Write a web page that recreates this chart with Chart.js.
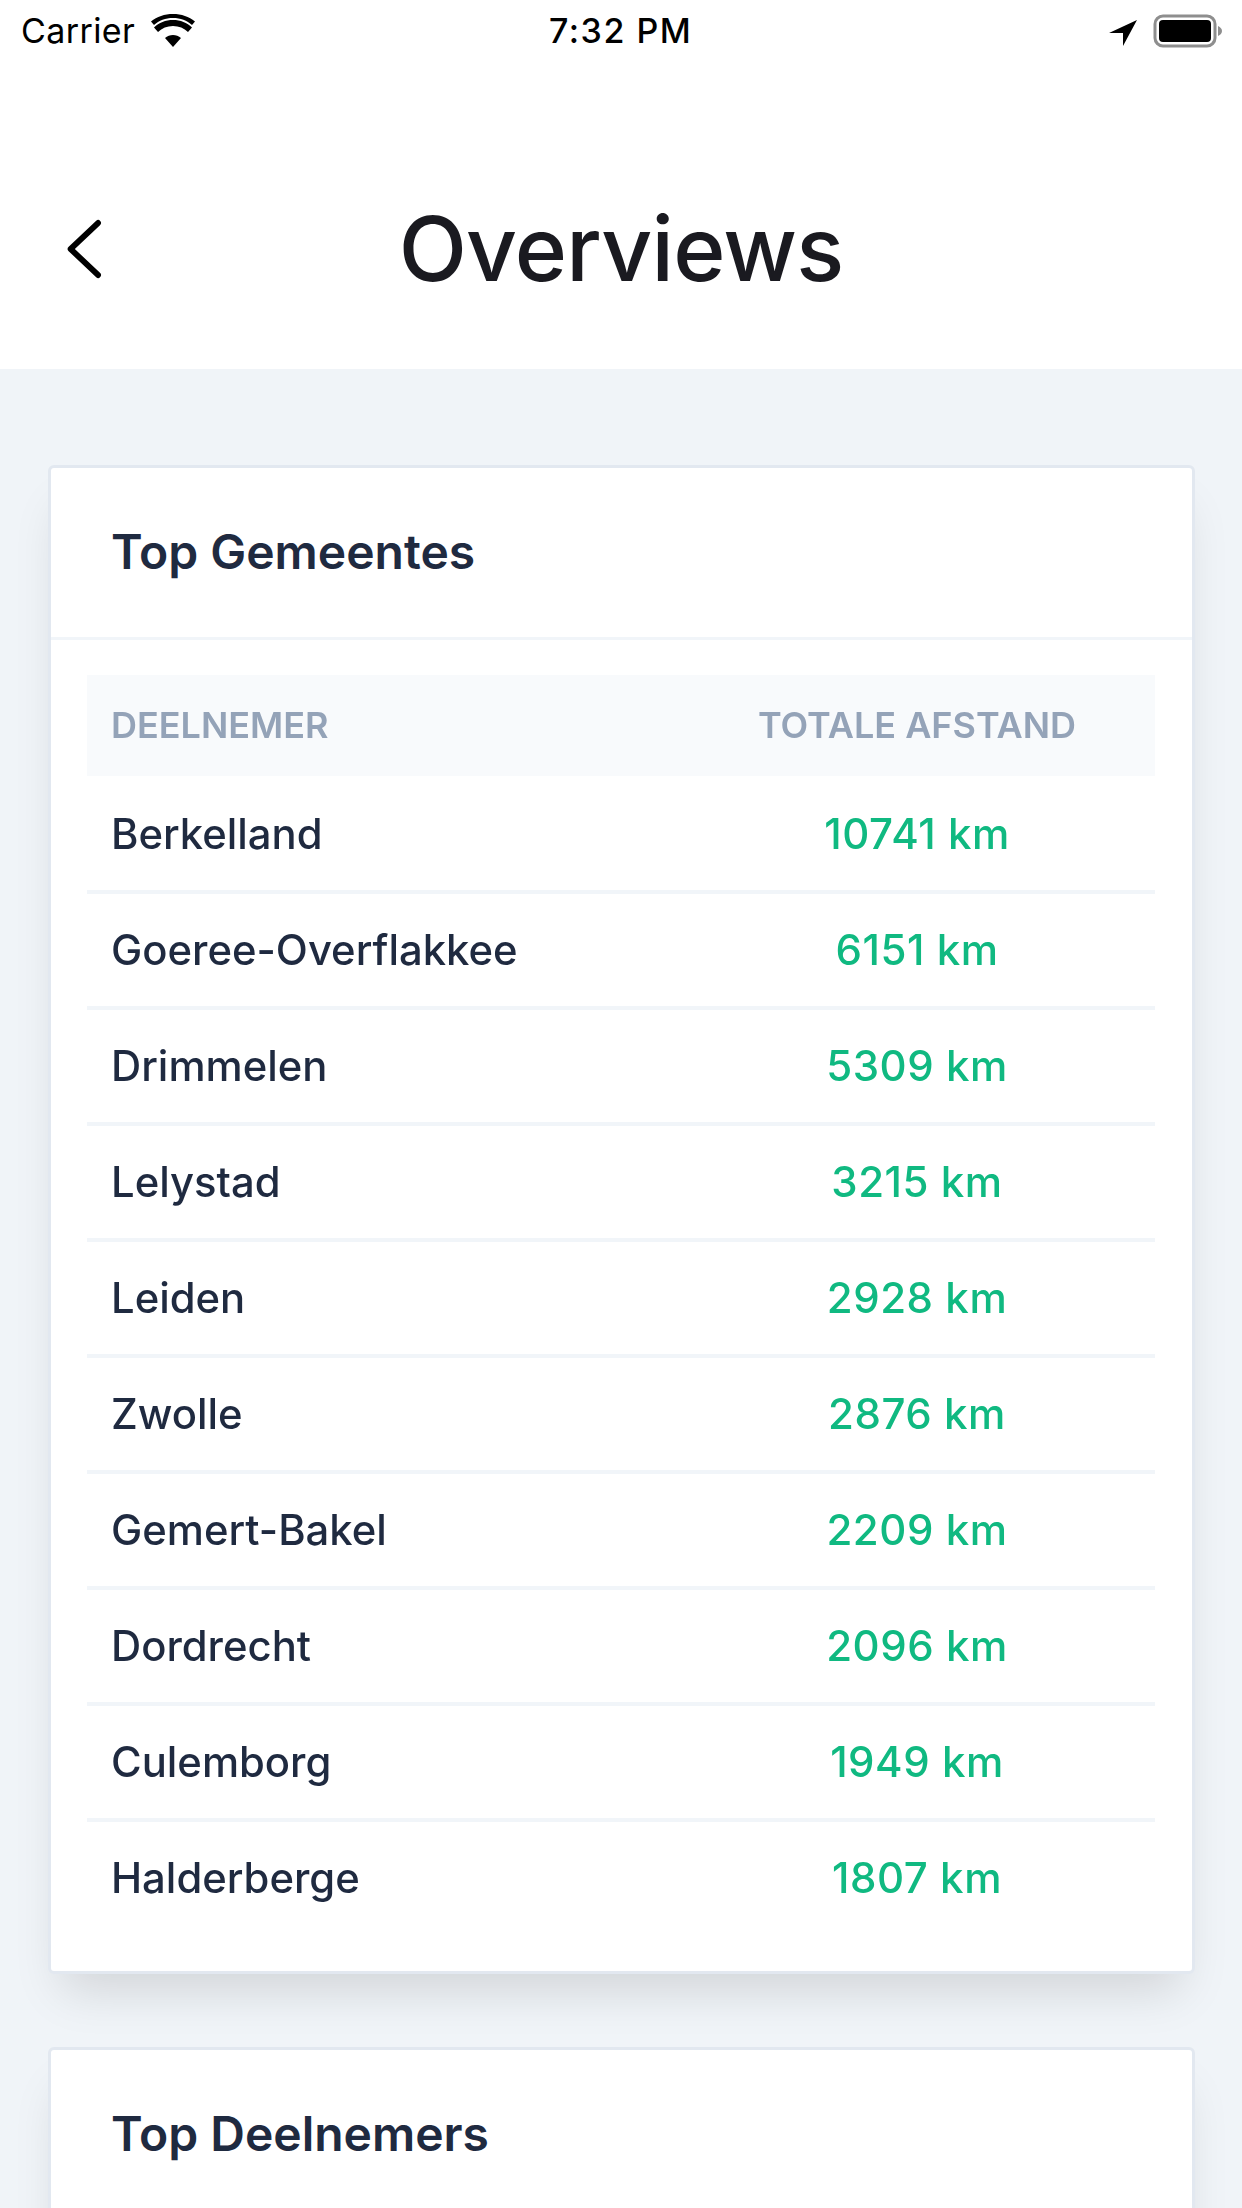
<!DOCTYPE html>
<html>
<head>
<meta charset="utf-8">
<title>Overviews</title>
<script src="https://cdn.jsdelivr.net/npm/chart.js@4"></script>
<style>
html, body { margin: 0; padding: 0; }
body { width: 1242px; height: 2208px; overflow: hidden; position: relative; background: #f0f4f8; font-family: Inter, sans-serif; }
#top { position: absolute; left: 0; top: 0; width: 1242px; height: 369px; background: #fff; }
.abs { position: absolute; white-space: nowrap; }
.status { font-family: Inter, sans-serif; color: #000; font-size: 34px; line-height: 40px; top: 11px; }
#heading { left: 0; width: 1242px; text-align: center; top: 195px; font-size: 89px; line-height: 108px; font-weight: 540; letter-spacing: -.8px; color: #1a1a20; }
.card { position: absolute; left: 48px; width: 1141px; background: #fff; border: 3px solid #e2e8f0; border-radius: 6px; box-shadow: 0 30px 45px -14px rgba(0,0,0,.13); }
.card h2 { position: absolute; left: 60px; margin: 0; font-size: 48px; line-height: 60px; font-weight: 600; color: #1f2a40; white-space: nowrap; }
#divider { position: absolute; left: 0; right: 0; top: 169px; height: 3px; background: #f1f5f9; }
#table { position: absolute; left: 87px; top: 675px; }
</style>
</head>
<body>
<div id="top"></div>
<div class="abs status" style="left:21px;letter-spacing:.4px">Carrier</div>
<svg class="abs" style="left:150px;top:14px" width="46" height="34" viewBox="0 0 46 34"><path d="M23 33 15 24c4.500-4 11.500-4 16 0Z M23 12c-6 0-11 2.300-15 6l-4-4.500C9 8.500 15.500 6 23 6s14 2.500 19 7.500L38 18c-4-3.700-9-6-15-6Z" fill="#000"/><path d="M1 7.500C7 2.500 14.500 0 23 0s16 2.500 22 7.500l-3 3.500C37 6.500 30.500 4 23 4S9 6.500 4 11Z" fill="#000"/></svg>
<div class="abs status" style="left:549px;font-weight:500;letter-spacing:1.5px">7:32 PM</div>
<svg class="abs" style="left:1108px;top:19px" width="30" height="28" viewBox="0 0 30 28"><path d="M29 1 15 27V14H1Z" fill="#000"/></svg>
<svg class="abs" style="left:1153px;top:14px" width="70" height="34" viewBox="0 0 70 34"><rect x="2" y="2" width="60" height="30" rx="8" fill="none" stroke="#8e8e8e" stroke-width="3"/><rect x="6" y="6" width="52" height="22" rx="4" fill="#000"/><path d="M65 12c2.500 1 4 3 4 5s-1.500 4-4 5Z" fill="#8e8e8e"/></svg>
<svg class="abs" style="left:66px;top:214px" width="50" height="70" viewBox="0 0 50 70"><path d="M38 9 9 35 38 61" transform="translate(-4 0) scale(.95 1)" fill="none" stroke="#000" stroke-width="6" stroke-linecap="round" stroke-linejoin="round"/></svg>
<div class="abs" id="heading">Overviews</div>

<div class="card" style="top:465px;height:1503px"><h2 style="top:54px">Top Gemeentes</h2><div id="divider"></div></div>
<canvas id="table" width="1068" height="1261"></canvas>
<div class="card" style="top:2047px;height:400px"><h2 style="top:54px">Top Deelnemers</h2></div>

<script>
// table contents
var columns = ['DEELNEMER', 'TOTALE AFSTAND'];
var municipalities = ['Berkelland', 'Goeree-Overflakkee', 'Drimmelen', 'Lelystad', 'Leiden', 'Zwolle', 'Gemert-Bakel', 'Dordrecht', 'Culemborg', 'Halderberge'];
var distances = [10741, 6151, 5309, 3215, 2928, 2876, 2209, 2096, 1949, 1807];
var unit = 'km';

// x scale runs over the table width, the columns sit at these anchors
var nameColumn = 24;
var distanceColumn = 830;

var ctx1 = document.getElementById('table').getContext('2d');

// writes the column headers and the distance cells
var tableCells = {
    id: 'tableCells',
    afterDatasetsDraw: function (chart) {
        var c = chart.ctx;
        var xScale = chart.scales.x;
        c.save();
        c.textBaseline = 'middle';

        c.font = '600 36px Inter';
        c.fillStyle = '#94a3b8';
        var headerY = (xScale.top + xScale.bottom) / 2 + 2;
        c.textAlign = 'left';
        c.fillText(columns[0], xScale.getPixelForValue(nameColumn), headerY);
        c.textAlign = 'center';
        c.fillText(columns[1], xScale.getPixelForValue(distanceColumn), headerY);

        c.font = '500 42px Inter';
        c.letterSpacing = '0.55px';
        c.fillStyle = '#10b981';
        chart.getDatasetMeta(0).data.forEach(function (point, i) {
            c.fillText(distances[i] + ' ' + unit, point.x, point.y + 2);
        });
        c.restore();
    }
};

var tableChart = new Chart(ctx1, {
    type: 'scatter',
    data: {
        datasets: [{
            label: columns[1],
            data: municipalities.map(function (name) { return { x: distanceColumn, y: name }; }),
            pointRadius: 0,
            showLine: false,
        }],
    },
    options: {
        responsive: false,
        maintainAspectRatio: false,
        animation: false,
        layout: { padding: 0 },
        plugins: { legend: { display: false }, title: { display: false }, tooltip: { enabled: false } },
        scales: {
            x: {
                type: 'linear',
                position: 'top',
                min: 0,
                max: 1068,
                backgroundColor: '#f8fafc',
                border: { display: false },
                grid: { display: false, drawTicks: false },
                ticks: { display: false },
                afterFit: function (scale) { scale.height = 101; },
            },
            y: {
                type: 'category',
                labels: municipalities,
                offset: true,
                border: { display: false },
                grid: {
                    offset: true,
                    drawTicks: false,
                    lineWidth: 4,
                    color: function (c) { return c.index > 0 ? '#f1f5f9' : 'transparent'; },
                },
                ticks: {
                    mirror: true,
                    padding: 24,
                    labelOffset: 2,
                    autoSkip: false,
                    color: '#1f2a40',
                    font: { family: 'Inter', size: 41.8, weight: 500 },
                },
                // names sit inside the plot, so the axis takes no room of its own
                afterFit: function (scale) {
                    scale.width = 0;
                    scale.paddingTop = 0;
                    scale.paddingBottom = 0;
                },
            },
        },
    },
    plugins: [tableCells],
});
</script>
</body>
</html>
